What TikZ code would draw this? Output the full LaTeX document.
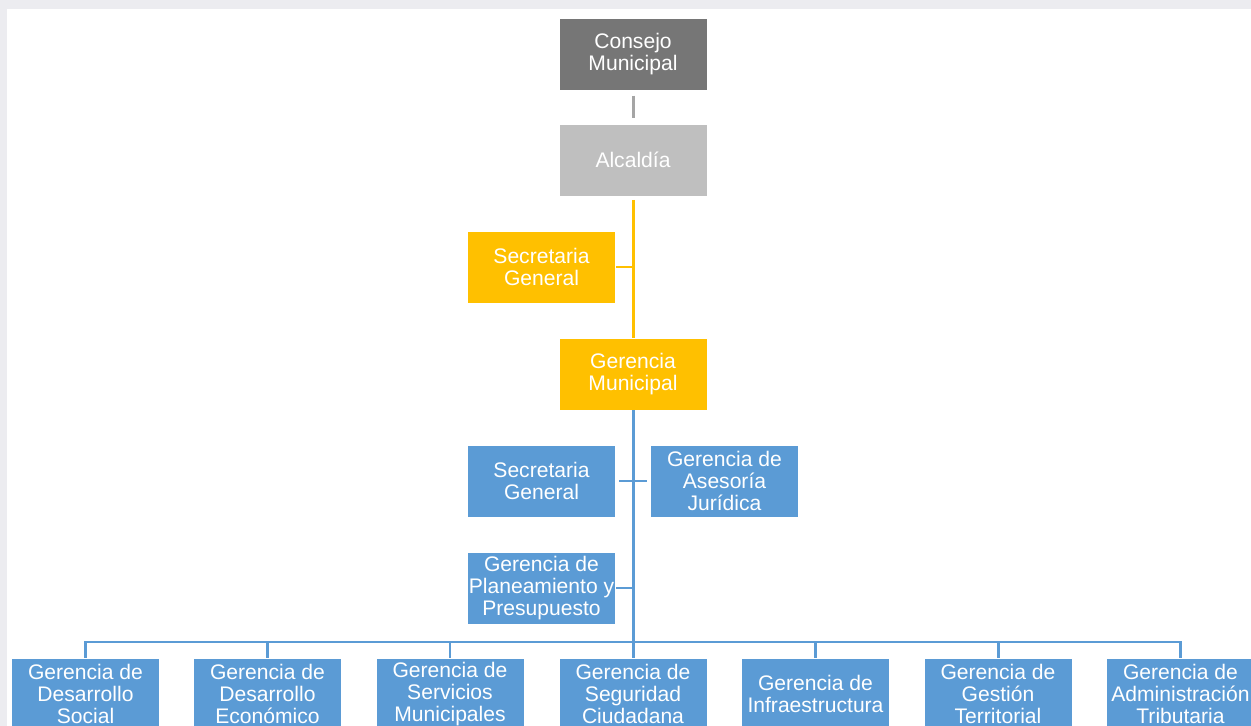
\documentclass[tikz,border=0pt]{standalone}
\usepackage{fontspec}
\setmainfont{Liberation Sans}
\definecolor{cdark}{HTML}{767676}
\definecolor{clight}{HTML}{BFBFBF}
\definecolor{cgrayline}{HTML}{A5A5A5}
\definecolor{cyel}{HTML}{FFC000}
\definecolor{cblue}{HTML}{5B9BD5}
\definecolor{cwm}{HTML}{ECECF0}
\begin{document}
\begin{tikzpicture}[x=0.02cm,y=-0.02cm,
  box/.style={rectangle, draw=white, line width=0.4pt, minimum width=2.96cm, minimum height=1.44cm,
    inner sep=0pt, align=center, text=white, font=\fontsize{12}{12.4}\selectfont},
  darkbox/.style={box, fill=cdark},
  lightbox/.style={box, fill=clight},
  yelbox/.style={box, fill=cyel},
  bluebox/.style={box, fill=cblue},
  conn/.style={line width=1.7pt},
  grayconn/.style={conn, draw=cgrayline},
  yelconn/.style={conn, draw=cyel},
  blueconn/.style={conn, draw=cblue}]
\useasboundingbox (0,0) rectangle (1251,726);
\clip (0,0) rectangle (1251,726);
\fill[white] (0,0) rectangle (1251,726);
\fill[cwm] (0,0) rectangle (1251,9);
\fill[cwm] (0,0) rectangle (7,726);

\node[darkbox] (consejo) at (633,54) {Consejo\\Municipal};
\node[lightbox] (alcaldia) at (633,160) {Alcaldía};
\node[yelbox] (secy) at (541.5,267) {Secretaria\\General};
\node[yelbox] (gm) at (633,374) {Gerencia\\Municipal};
\node[bluebox] (secb) at (541.5,481) {Secretaria\\General};
\node[bluebox] (aj) at (724.5,481) {Gerencia de\\Asesoría\\Jurídica};
\node[bluebox] (pp) at (541.5,588) {Gerencia de\\Planeamiento y\\Presupuesto};

\node[bluebox] (b1) at (85.5,694) {Gerencia de\\Desarrollo\\Social};
\node[bluebox] (b2) at (267.5,694) {Gerencia de\\Desarrollo\\Económico};
\node[bluebox] (b3) at (450,694) {Gerencia de\\Servicios\\Municipales};
\node[bluebox] (b4) at (633,694) {Gerencia de\\Seguridad\\Ciudadana};
\node[bluebox] (b5) at (815.5,694) {Gerencia de\\Infraestructura};
\node[bluebox] (b6) at (998,694) {Gerencia de\\Gestión\\Territorial};
\node[bluebox] (b7) at (1180.5,694) {Gerencia de\\Administración\\Tributaria};

\coordinate (ysec) at (633,267);
\coordinate (bsec) at (633,481);
\coordinate (bpp) at (633,588);
\coordinate (bus) at (633,642);

\draw[grayconn, shorten <=3pt, shorten >=3pt] (consejo.south) -- (alcaldia.north);
\draw[yelconn, shorten <=2pt] (alcaldia.south) -- (gm.north);
\draw[yelconn] (ysec) -- (secy.east);
\draw[blueconn] (gm.south) -- (bus);
\draw[blueconn, shorten <=2pt, shorten >=2pt] (secb.east) -- (aj.west);
\draw[blueconn] (bpp) -- (pp.east);
\draw[blueconn] (b1.north) -- (b1.north |- bus) -- (b7.north |- bus) -- (b7.north);
\foreach \b in {b2,b3,b4,b5,b6}{
  \draw[blueconn] (\b.north |- bus) -- (\b.north);
}
\end{tikzpicture}
\end{document}
